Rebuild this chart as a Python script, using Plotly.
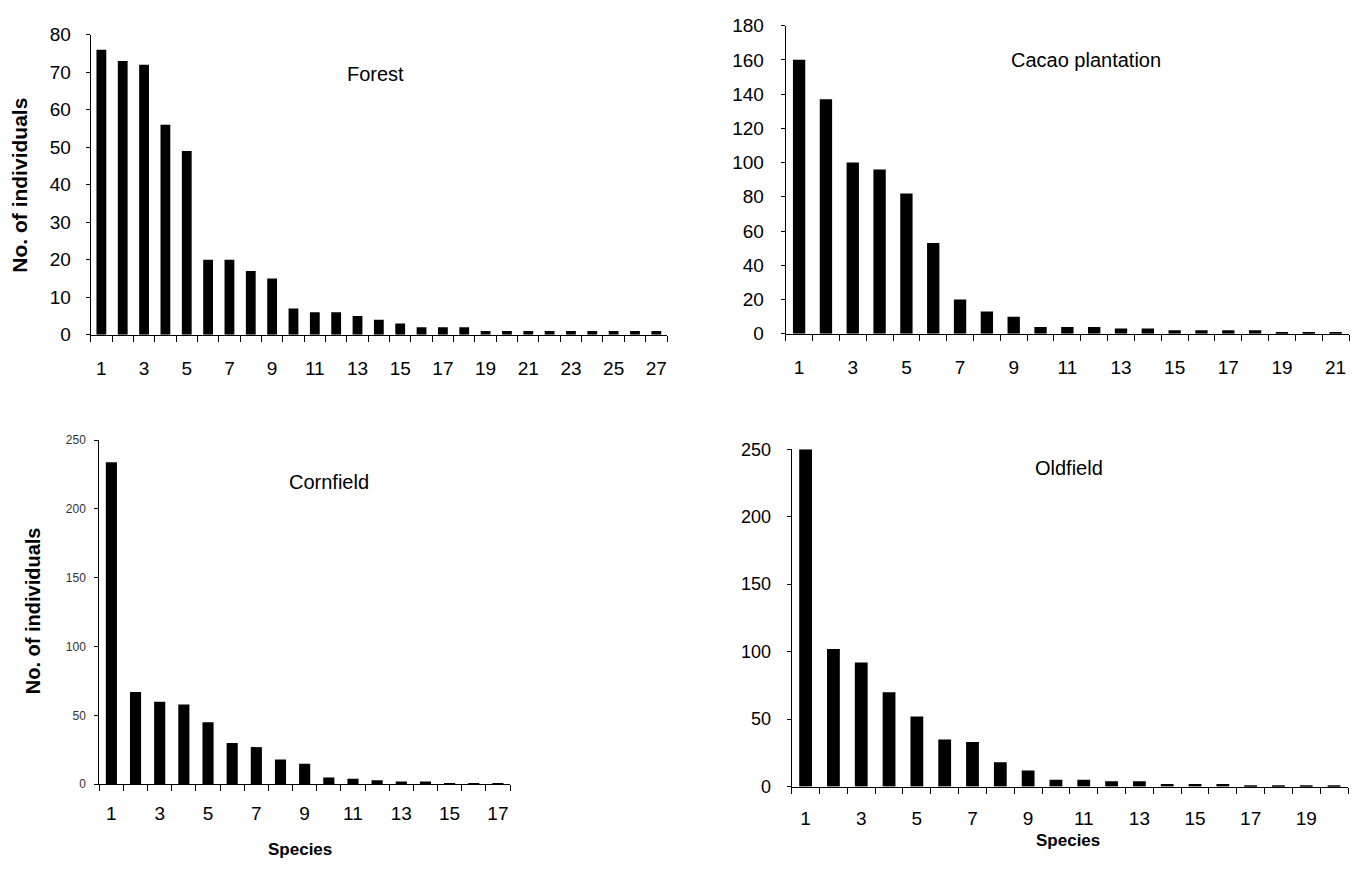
import plotly.graph_objects as go

forest = [76, 73, 72, 56, 49, 20, 20, 17, 15, 7, 6, 6, 5, 4, 3, 2, 2, 2, 1, 1, 1, 1, 1, 1, 1, 1, 1]
cacao = [160, 137, 100, 96, 82, 53, 20, 13, 10, 4, 4, 4, 3, 3, 2, 2, 2, 2, 1, 1, 1]
cornfield = [234, 67, 60, 58, 45, 30, 27, 18, 15, 5, 4, 3, 2, 2, 1, 1, 1]
oldfield = [250, 102, 92, 70, 52, 35, 33, 18, 12, 5, 5, 4, 4, 2, 2, 2, 1, 1, 1, 1]

panels = [
    dict(name="Forest", vals=forest, ymax=80, ydt=10, xd=[90.7, 667], yd=[332.7, 25.3],
         title_xy=(375, 66), ytick_size=19, ytick_col="black", ystand=11, xstand=16, xsize=19),
    dict(name="Cacao plantation", vals=cacao, ymax=180, ydt=20, xd=[785.7, 1349], yd=[331.7, 16],
         title_xy=(1086, 51), ytick_size=19, ytick_col="black", ystand=13, xstand=16, xsize=19),
    dict(name="Cornfield", vals=cornfield, ymax=250, ydt=50, xd=[99.3, 510], yd=[793.3, 440.7],
         title_xy=(329, 484), ytick_size=12, ytick_col="#333333", ystand=6, xstand=12, xsize=19),
    dict(name="Oldfield", vals=oldfield, ymax=250, ydt=50, xd=[791.7, 1348], yd=[795.7, 450],
         title_xy=(1069, 469), ytick_size=18, ytick_col="black", ystand=12, xstand=15, xsize=19),
]

W, H = 1361, 876
FONT = "Liberation Sans, Arial, sans-serif"

fig = go.Figure()
annotations = []
for i, p in enumerate(panels, start=1):
    n = len(p["vals"])
    xs = list(range(1, n + 1))
    xa = "x" if i == 1 else f"x{i}"
    ya = "y" if i == 1 else f"y{i}"
    fig.add_trace(go.Bar(x=xs, y=p["vals"], xaxis=xa, yaxis=ya,
                         marker=dict(color="black", line=dict(width=0)),
                         width=0.46, showlegend=False))
    xkey = "xaxis" if i == 1 else f"xaxis{i}"
    ykey = "yaxis" if i == 1 else f"yaxis{i}"
    fig.layout[xkey] = dict(
        domain=[p["xd"][0] / W, p["xd"][1] / W],
        anchor=ya, range=[0.5, n + 0.5],
        tickmode="array", tickvals=list(range(1, n + 1, 2)),
        ticks="", showgrid=False, zeroline=False,
        showline=True, linecolor="black", linewidth=1,
        tickfont=dict(family=FONT, size=p["xsize"], color="black"),
        ticklabelstandoff=p["xstand"],
        minor=dict(tick0=0.5, dtick=1, ticks="outside", ticklen=6,
                   tickcolor="black", tickwidth=1, showgrid=False),
        fixedrange=True,
    )
    fig.layout[ykey] = dict(
        domain=[1 - p["yd"][0] / H, 1 - p["yd"][1] / H],
        anchor=xa, range=[0, p["ymax"]],
        tickmode="linear", tick0=0, dtick=p["ydt"],
        ticks="outside", ticklen=4, tickcolor="black",
        showgrid=False, zeroline=False,
        showline=True, linecolor="black", linewidth=1,
        tickfont=dict(family=FONT, size=p["ytick_size"], color=p["ytick_col"]),
        ticklabelstandoff=p["ystand"],
        fixedrange=True,
    )
    annotations.append(dict(text=p["name"], x=p["title_xy"][0] / W, y=1 - p["title_xy"][1] / H,
                            xref="paper", yref="paper", showarrow=False,
                            xanchor="center", yanchor="middle",
                            font=dict(family=FONT, size=20, color="black")))

# axis titles
annotations += [
    dict(text="<b>No. of individuals</b>", x=20 / W, y=1 - 180 / H, textangle=-90,
         xref="paper", yref="paper", showarrow=False, xanchor="center", yanchor="middle",
         font=dict(family=FONT, size=21, color="black")),
    dict(text="<b>No. of individuals</b>", x=33 / W, y=1 - 616 / H, textangle=-90,
         xref="paper", yref="paper", showarrow=False, xanchor="center", yanchor="middle",
         font=dict(family=FONT, size=20, color="black")),
    dict(text="<b>Species</b>", x=300 / W, y=1 - 860 / H,
         xref="paper", yref="paper", showarrow=False, xanchor="center", yanchor="middle",
         font=dict(family=FONT, size=17, color="black")),
    dict(text="<b>Species</b>", x=1068 / W, y=1 - 851 / H,
         xref="paper", yref="paper", showarrow=False, xanchor="center", yanchor="middle",
         font=dict(family=FONT, size=17, color="black")),
]

fig.update_layout(
    width=W, height=H, margin=dict(l=0, r=0, t=0, b=0),
    paper_bgcolor="white", plot_bgcolor="white",
    annotations=annotations, bargap=0.54,
    font=dict(family=FONT, color="black"),
)

fig.write_html("out.html", config={"displayModeBar": False},
               post_script="document.body.style.margin='0';document.body.style.overflow='hidden';")
